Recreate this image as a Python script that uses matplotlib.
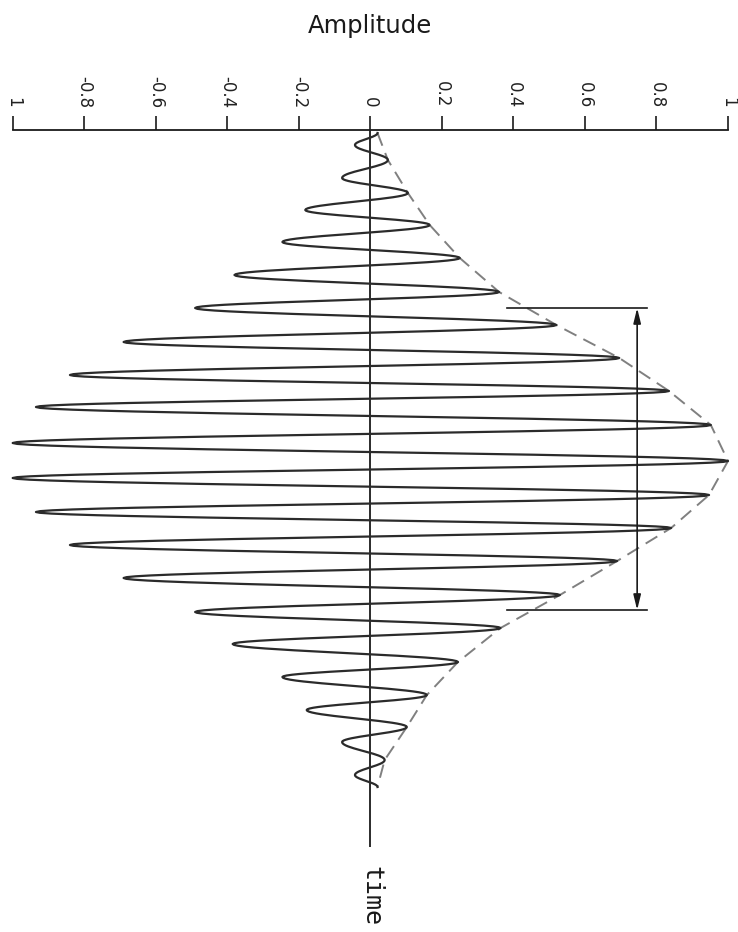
import numpy as np
import matplotlib.pyplot as plt

# extremes of the pulse: time (top of axis = 0) and amplitude
ext_t = [3, 15, 30, 48, 63, 80, 95, 112, 128, 145, 162, 178, 195, 212, 228, 245,
         261, 277, 295, 313, 331, 348, 365, 382, 398, 415, 431, 448, 465, 482,
         498, 514, 532, 547, 565, 580, 597, 612, 630, 645, 657]
ext_amp = [0.02, -0.043, 0.049, -0.079, 0.105, -0.182, 0.166, -0.246, 0.25, -0.38,
           0.36, -0.49, 0.52, -0.69, 0.696, -0.84, 0.835, -0.935, 0.952, -1.0,
           1.0, -1.0, 0.947, -0.935, 0.841, -0.84, 0.69, -0.69, 0.53, -0.49,
           0.364, -0.385, 0.245, -0.246, 0.158, -0.178, 0.102, -0.079, 0.04,
           -0.043, 0.02]

tick_vals = [-1, -0.8, -0.6, -0.4, -0.2, 0, 0.2, 0.4, 0.6, 0.8, 1]
tick_labels = ['1', '-0.8', '-0.6', '-0.4', '-0.2', '0', '0.2', '0.4', '0.6', '0.8', '1']

# pulse width marker
width_t = [178, 480]
width_amp = [0.383, 0.774]
arrow_amp = 0.746


def half_cosine_path(ts, amps, n=20):
    """join successive extremes with half-cosine arcs"""
    out_t, out_a = [], []
    for i in range(len(ts) - 1):
        s = np.linspace(0, 1, n, endpoint=False)
        out_t.extend(ts[i] + (ts[i + 1] - ts[i]) * s)
        out_a.extend(amps[i] + (amps[i + 1] - amps[i]) * (1 - np.cos(np.pi * s)) / 2)
    out_t.append(ts[-1])
    out_a.append(amps[-1])
    return np.array(out_t), np.array(out_a)


fig = plt.figure(figsize=(7.38, 9.32), dpi=100)
ax = fig.add_axes([12.7 / 738, 1 - 847 / 932, 715.3 / 738, 717 / 932])

wt, wa = half_cosine_path(ext_t, ext_amp)
ax.plot(wa, wt, color='#2b2b2b', lw=1.6, clip_on=False, zorder=3)

# envelope through the positive peaks
env_t = [ext_t[0]] + [t for t, a in zip(ext_t[1:-1], ext_amp[1:-1]) if a > 0] + [ext_t[-1]]
env_a = [ext_amp[0]] + [a for a in ext_amp[1:-1] if a > 0] + [ext_amp[-1]]
ax.plot(env_a, env_t, color='#808080', lw=1.4, ls=(0, (7, 4)), zorder=2, clip_on=False)

ax.axvline(0, color='#1a1a1a', lw=1.3)

for t in width_t:
    ax.plot(width_amp, [t, t], color='#1a1a1a', lw=1.2)
ax.annotate('', xy=(arrow_amp, width_t[0]), xytext=(arrow_amp, width_t[1]),
            arrowprops=dict(arrowstyle='<|-|>,head_length=0.9,head_width=0.22',
                            color='#1a1a1a', lw=1.2, shrinkA=0, shrinkB=0))

ax.set_xlim(-1, 1)
ax.set_ylim(717, 0)
for side in ['left', 'right', 'bottom']:
    ax.spines[side].set_visible(False)
ax.spines['top'].set_linewidth(1.3)
ax.spines['top'].set_color('#1a1a1a')
ax.set_yticks([])
ax.xaxis.set_ticks_position('top')
ax.set_xticks(tick_vals)
ax.set_xticklabels(tick_labels, rotation=-90, fontsize=12, color='#222222')
ax.tick_params(axis='x', direction='out', length=10, width=1.2, pad=6, color='#1a1a1a')

fig.text(370 / 738, 1 - 33 / 932, 'Amplitude', ha='center', va='baseline',
         fontsize=17.5, color='#1a1a1a')
fig.text(371 / 738, 1 - 866 / 932, 'time', rotation=-90, ha='center', va='top',
         family='DejaVu Sans Mono', fontsize=18, color='#1a1a1a')

fig.savefig('out.png', dpi=100)
